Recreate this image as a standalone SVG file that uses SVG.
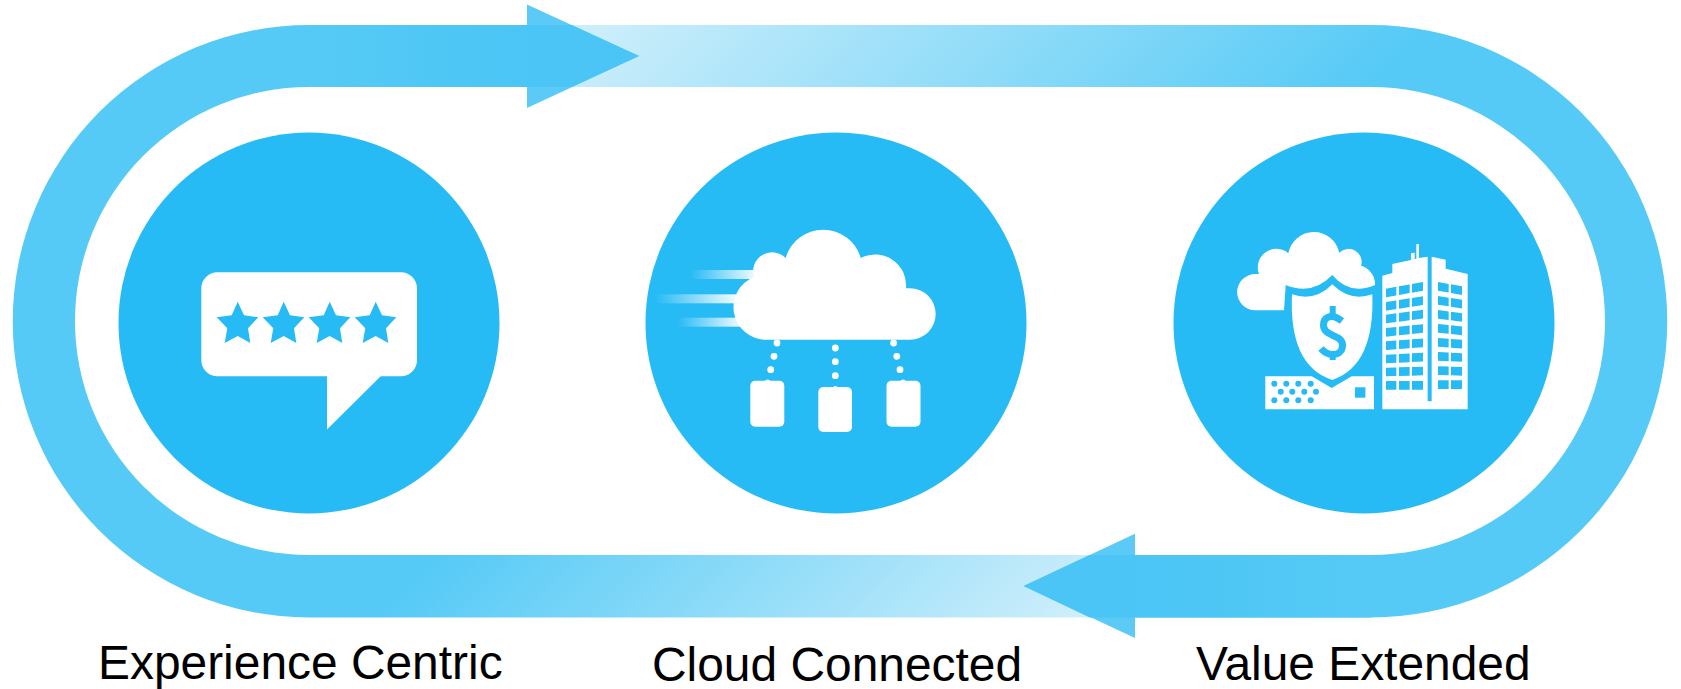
<svg xmlns="http://www.w3.org/2000/svg" xmlns:xlink="http://www.w3.org/1999/xlink" width="1681" height="689" viewBox="0 0 1681 689">
<style>
.disc{fill:#26bbf5}
.ico{fill:#fff}
.cut{fill:#26bbf5}
.lbl{font-family:"Liberation Sans",Arial,sans-serif;font-size:47.9px;fill:#000}
.head{fill:#5bcaf6}
.over{fill:#4ac5f5}
</style>
<defs>
<linearGradient id="gTop" gradientUnits="userSpaceOnUse" x1="300" y1="300" x2="725" y2="725">
<stop offset="0" stop-color="#cfeffb"/><stop offset="1" stop-color="#56caf6"/>
</linearGradient>
<linearGradient id="gBot" gradientUnits="userSpaceOnUse" x1="500" y1="500" x2="850" y2="850">
<stop offset="0" stop-color="#56caf6"/><stop offset="1" stop-color="#cfeffb"/>
</linearGradient>
<linearGradient id="tailR"><stop offset="0" stop-color="#56caf6"/><stop offset="1" stop-color="#4ac5f5"/></linearGradient>
<linearGradient id="tailL"><stop offset="0" stop-color="#4ac5f5"/><stop offset="1" stop-color="#56caf6"/></linearGradient>
<linearGradient id="streak"><stop offset="0" stop-color="#fff" stop-opacity="0"/><stop offset="1" stop-color="#fff" stop-opacity=".95"/></linearGradient>
<polygon id="star" points="0,0 6.3,13.6 20.6,15.6 10.3,26.6 12.6,41.3 0,34.3 -13,41.3 -10.4,26.6 -21,15.6 -6,13.6"/>
</defs>
<rect width="1681" height="689" fill="#fff"/>
<g id="connectors">
<path d="M1100 555H1371A234 234 0 0 0 1371 87H550V25H1371A296.25 296.25 0 0 1 1371 617.5H1100Z" fill="url(#gTop)"/>
<path d="M560 25H309A296.25 296.25 0 0 0 309 617.5H1100V555H309A234 234 0 0 1 309 87H560Z" fill="url(#gBot)"/>
<rect x="309" y="25" width="218" height="62" fill="url(#tailR)"/>
<polygon class="head" points="527,4.5 639,56 527,108"/>
<polygon class="over" points="527,25 571.6,25 639,56 571.6,87 527,87"/>
<rect x="1135" y="555" width="236" height="62.5" fill="url(#tailL)"/>
<polygon class="head" points="1135,533.7 1023.7,586 1135,638"/>
<polygon class="over" points="1135,555 1089.7,555 1023.7,586 1089.7,617.5 1135,617.5"/>
</g>
<g id="node-experience">
<circle class="disc" cx="309" cy="323" r="190.5"/>
<path class="ico" d="M217.3 272.3H401A16 16 0 0 1 417 288.3V360.3A16 16 0 0 1 401 376.3H380.7L327 429.5V376.3H217.3A16 16 0 0 1 201.3 360.3V288.3A16 16 0 0 1 217.3 272.3Z"/>
<g class="cut">
<use xlink:href="#star" href="#star" x="237.7" y="301.7"/>
<use xlink:href="#star" href="#star" x="283.7" y="301.7"/>
<use xlink:href="#star" href="#star" x="329.7" y="301.7"/>
<use xlink:href="#star" href="#star" x="375.7" y="301.7"/>
</g>
<text class="lbl" x="98" y="679">Experience Centric</text>
</g>
<g id="node-cloud">
<circle class="disc" cx="836" cy="323" r="190.5"/>
<rect x="690.7" y="270" width="66" height="9" fill="url(#streak)"/>
<rect x="655" y="294.3" width="82" height="9" fill="url(#streak)"/>
<rect x="677.7" y="317.7" width="64" height="9" fill="url(#streak)"/>
<path class="ico" d="M765 339.7H910A25.7 25.7 0 0 0 910 288.3H906A31 31 0 0 0 860.7 258A39 39 0 0 0 785.7 258A19 19 0 0 0 754 277A32.5 32.5 0 0 0 765 339.7Z"/>
<g class="ico">
<circle cx="777" cy="343" r="3.4"/><circle cx="774" cy="356.3" r="3.4"/><circle cx="770.7" cy="369.7" r="3.4"/><circle cx="767.7" cy="382" r="2.6"/>
<circle cx="835.3" cy="348" r="3.4"/><circle cx="835.3" cy="361.7" r="3.4"/><circle cx="835.3" cy="375.7" r="3.4"/><circle cx="835.3" cy="388.5" r="2.6"/>
<circle cx="893.6" cy="343" r="3.4"/><circle cx="896.8" cy="356.3" r="3.4"/><circle cx="900" cy="369.7" r="3.4"/><circle cx="903" cy="382" r="2.6"/>
<rect x="750.3" y="380.7" width="34" height="46" rx="5"/>
<rect x="818.3" y="387" width="33.7" height="45" rx="5"/>
<rect x="886.5" y="380.7" width="34" height="46" rx="5"/>
</g>
<text class="lbl" x="652" y="681">Cloud Connected</text>
</g>
<g id="node-value">
<circle class="disc" cx="1364" cy="323" r="190.5"/>
<path class="ico" d="M1255.3 310.3A18 18 0 0 1 1255.3 274H1259A18.5 18.5 0 0 1 1288.3 253.3A26 26 0 0 1 1339.3 252.7A13 13 0 0 1 1361 265.7A19 19 0 0 1 1375 285Q1350 296 1332.3 275Q1312 296 1285.7 285L1284 310.3Z"/>
<path class="ico" d="M1292 294.3Q1315 302 1332.3 284.3Q1350 302 1372.3 294.3C1374 340 1362 370 1332.3 380C1302 370 1290 340 1292 294.3Z"/>
<path fill="none" stroke="#26bbf5" stroke-width="7" d="M1342 321C1338 318 1335 316.5 1332 316.5C1326 316.5 1323.5 320 1323.5 325C1323.5 331 1328 333 1333 335.5C1339 338 1342.5 340 1342.5 345.5C1342.5 351 1338 354.5 1332.5 354.5C1328 354.5 1324 352 1321 348.5"/>
<rect class="cut" x="1329.7" y="306" width="6" height="9"/>
<rect class="cut" x="1329.7" y="354" width="6" height="6"/>
<path class="ico" d="M1265.3 376.3H1311.7L1331.7 388L1351.7 376.3H1374V409.3H1265.3Z"/>
<g class="cut">
<rect x="1355" y="387.3" width="10.4" height="10.4"/>
<circle cx="1274.3" cy="383.7" r="3"/><circle cx="1286.3" cy="383.7" r="3"/><circle cx="1298.3" cy="383.7" r="3"/><circle cx="1310.7" cy="383.7" r="3"/>
<circle cx="1280.7" cy="391.7" r="3"/><circle cx="1292.3" cy="391.7" r="3"/><circle cx="1304.3" cy="391.7" r="3"/><circle cx="1316" cy="391.7" r="3"/>
<circle cx="1274.3" cy="400.3" r="3"/><circle cx="1286.3" cy="400.3" r="3"/><circle cx="1298.3" cy="400.3" r="3"/><circle cx="1310.7" cy="400.3" r="3"/>
</g>
<g transform="translate(1375 238) scale(.33333)">
<path class="ico" d="M22 113L52 105V78L108 66V46L119 44V64L124 62V18H132V60L158 56V490H170V56L212 65V92L278 108V514H22Z"/>
<path class="cut" d="M33 152L64 146.4v26L33 178zM72 145L104 139.2v26L72 171zM111 138L144 132v26L111 164zM33 192L64 187.2v26L33 218zM72 186L104 181v26L72 212zM111 179.9L144 174.8v26L111 205.9zM33 230L64 226v26L33 256zM72 224.9L104 220.8v26L72 250.9zM111 219.9L144 215.6v26L111 245.9zM33 270L64 266.8v26L33 296zM72 266L104 262.7v26L72 292zM111 262L144 258.6v26L111 288zM33 310L64 307.6v26L33 336zM72 307L104 304.5v26L72 333zM111 304L144 301.5v26L111 330zM33 350L64 348.5v26L33 376zM72 348L104 346.5v26L72 374zM111 346L144 344.5v26L111 372zM33 389L64 388.2v26L33 415zM72 388L104 387.2v26L72 414zM111 387L144 386v26L111 413zM33 429H64v26H33zM72 429H104v26H72zM111 429H144v26H111z"/>
<path class="cut" d="M189 132L221 137.8v26L189 158zM228 139L261 145v26L228 165zM189 174L221 179v26L189 200zM228 180L261 185.2v26L228 206zM189 216L221 220.2v26L189 242zM228 221L261 225.4v26L228 247zM189 258L221 261.3v26L189 284zM228 262L261 265.4v26L228 288zM189 300L221 302.5v26L189 326zM228 303L261 305.5v26L228 329zM189 342L221 343.6v26L189 368zM228 344L261 345.6v26L228 370zM189 385L221 385.8v26L189 411zM228 386L261 386.9v26L228 412zM189 427H221v26H189zM228 427H261v26H228z"/>
</g>
<text class="lbl" x="1196" y="680">Value Extended</text>
</g>
</svg>
